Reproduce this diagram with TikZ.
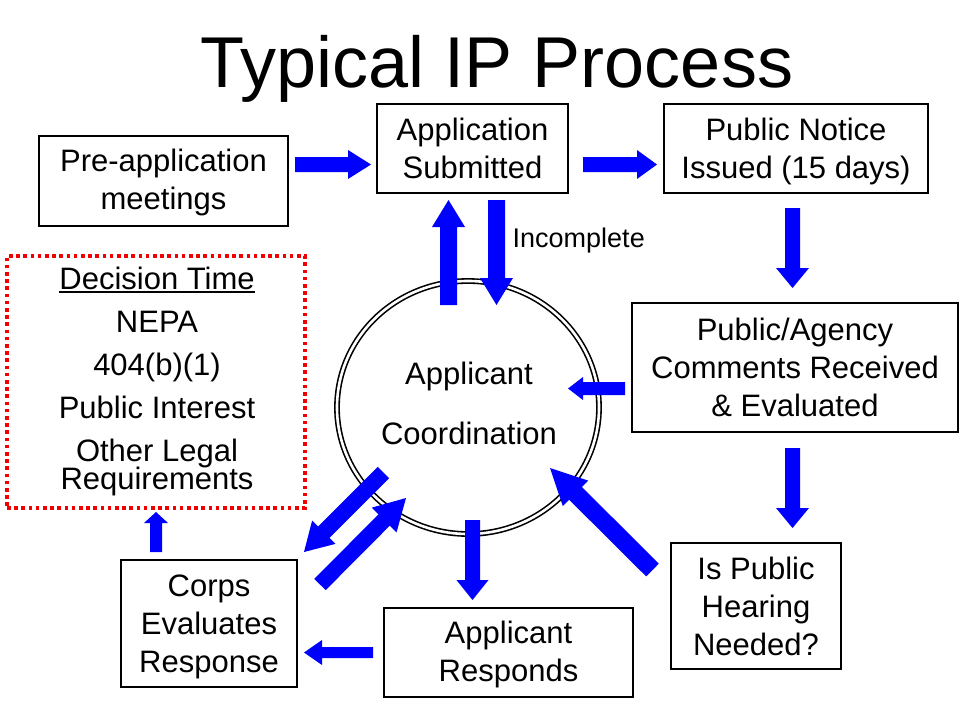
\documentclass[tikz,border=0pt]{standalone}
\usepackage{fontspec}
\setmainfont{Liberation Sans}
\usetikzlibrary{calc,shapes.geometric}
\definecolor{arrowblue}{RGB}{0,0,255}
\definecolor{dotred}{RGB}{240,0,0}
\newcommand\bluearrow[5]{%
  \coordinate (ba-h) at ($(#2)!#5!(#1)$);
  \fill[arrowblue] ($(#1)!#3!90:(#2)$) -- ($(ba-h)!#3!-90:(#1)$) -- ($(ba-h)!#4!-90:(#1)$)
    -- (#2) -- ($(ba-h)!#4!90:(#1)$) -- ($(ba-h)!#3!90:(#1)$) -- ($(#1)!#3!-90:(#2)$) -- cycle;}
\newcommand\myul[1]{\setbox0\hbox{#1}\rlap{\rule[-4pt]{\wd0}{1.8pt}}\box0}
\lineskiplimit=-100pt
\begin{document}
\begin{tikzpicture}[x=1pt,y=-1pt,
  boxtext/.style={font=\fontsize{31}{38}\selectfont},
  procbox/.style={draw, line width=2.8pt, inner sep=0pt, align=center, boxtext},
  boxlabel/.style={boxtext, align=center, inner sep=0pt},
  ]
\useasboundingbox (0,0) rectangle (960,720);
\fill[white] (0,0) rectangle (960,720);

% title
\node[anchor=base, inner sep=0pt, font=\fontsize{72}{80}\selectfont] (title) at (497,87) {Typical IP Process};

% boxes
\node[procbox, minimum width=249pt, minimum height=90pt] (pre) at (163.5,181) {};
\node[boxlabel] (pretext) at ([yshift=-1pt]pre.center) {Pre-application\\meetings};
\node[procbox, minimum width=191pt, minimum height=89pt] (app) at (472.5,148.5) {Application\\Submitted};
\node[procbox, minimum width=264pt, minimum height=89pt] (pn) at (796,148.5) {};
\node[boxlabel] (pntext) at ([yshift=-3pt]pn.center) {Public Notice\\Issued (15 days)};
\node[procbox, minimum width=326pt, minimum height=129pt] (pa) at (795,367.5) {Public/Agency\\Comments Received\\\& Evaluated};
\node[procbox, minimum width=170pt, minimum height=126pt] (hear) at (756,606) {Is Public\\Hearing\\Needed?};
\node[procbox, minimum width=249pt, minimum height=89pt] (resp) at (508.5,652.5) {};
\node[boxlabel] (resptext) at ([yshift=-2pt]resp.center) {Applicant\\Responds};
\node[procbox, minimum width=176pt, minimum height=127pt] (corps) at (209,623.5) {};
\node[boxlabel] (corpstext) at ([yshift=-3pt]corps.center) {Corps\\Evaluates\\Response};

% decision box
\node[draw=dotred, line width=3.6pt, dash pattern=on 3.6pt off 3.6pt, minimum width=298pt, minimum height=252pt, inner sep=0pt] (dec) at (156,382) {};
\node[align=center, inner sep=0pt, font=\fontsize{31}{28}\selectfont] (dectext) at (157,381)
  {\myul{Decision Time}\\[15pt]NEPA\\[15pt]404(b)(1)\\[15pt]Public Interest\\[15pt]Other Legal\\Requirements};

% circle
\node[draw, ellipse, line width=1.6pt, double, double distance=2.6pt, minimum width=262pt, minimum height=253pt, inner sep=0pt] (circ) at (468,407.5) {};
\node[align=center, inner sep=0pt, font=\fontsize{31}{60}\selectfont] (circtext) at (469,403.7) {Applicant\\Coordination};

% label
\node[anchor=base west, inner sep=0pt, font=\fontsize{27}{30}\selectfont] (incomplete) at (512.5,247) {Incomplete};

% arrow end points
\coordinate (a1s) at (295,164.5);   \coordinate (a1t) at (371,164.5);
\coordinate (a2s) at (583,164.5);   \coordinate (a2t) at (657,164.5);
\coordinate (a3s) at (448.5,305);   \coordinate (a3t) at (448.5,200);
\coordinate (a4s) at (496.5,200);   \coordinate (a4t) at (496.5,305);
\coordinate (a5s) at (792.5,208);   \coordinate (a5t) at (792.5,288);
\coordinate (a6s) at (792.5,448);   \coordinate (a6t) at (792.5,528);
\coordinate (a7s) at (625,388.5);   \coordinate (a7t) at (568,388.5);
\coordinate (a8s) at (652.5,570);   \coordinate (a8t) at (550,468);
\coordinate (a9s) at (472.5,520);   \coordinate (a9t) at (472.5,600);
\coordinate (a10s) at (373,652.5);  \coordinate (a10t) at (304,652.5);
\coordinate (a11s) at (156,552);    \coordinate (a11t) at (156,512);
\coordinate (a12s) at (383.5,472.5);\coordinate (a12t) at (304,552);
\coordinate (a13s) at (320,584.5);  \coordinate (a13t) at (406,498);

\bluearrow{a1s}{a1t}{7.5pt}{14.5pt}{23pt}
\bluearrow{a2s}{a2t}{7.5pt}{14.5pt}{20pt}
\bluearrow{a3s}{a3t}{8.5pt}{16.5pt}{27pt}
\bluearrow{a4s}{a4t}{8.5pt}{16.5pt}{27pt}
\bluearrow{a5s}{a5t}{7.5pt}{16.5pt}{20pt}
\bluearrow{a6s}{a6t}{7.5pt}{16.5pt}{20pt}
\bluearrow{a7s}{a7t}{6.5pt}{11.5pt}{15pt}
\bluearrow{a8s}{a8t}{9pt}{18pt}{36pt}
\bluearrow{a9s}{a9t}{7.5pt}{16pt}{20pt}
\bluearrow{a10s}{a10t}{5.5pt}{12.5pt}{18pt}
\bluearrow{a11s}{a11t}{6pt}{12pt}{11pt}
\bluearrow{a12s}{a12t}{8pt}{16.5pt}{28pt}
\bluearrow{a13s}{a13t}{8pt}{17.5pt}{31pt}
\end{tikzpicture}
\end{document}
